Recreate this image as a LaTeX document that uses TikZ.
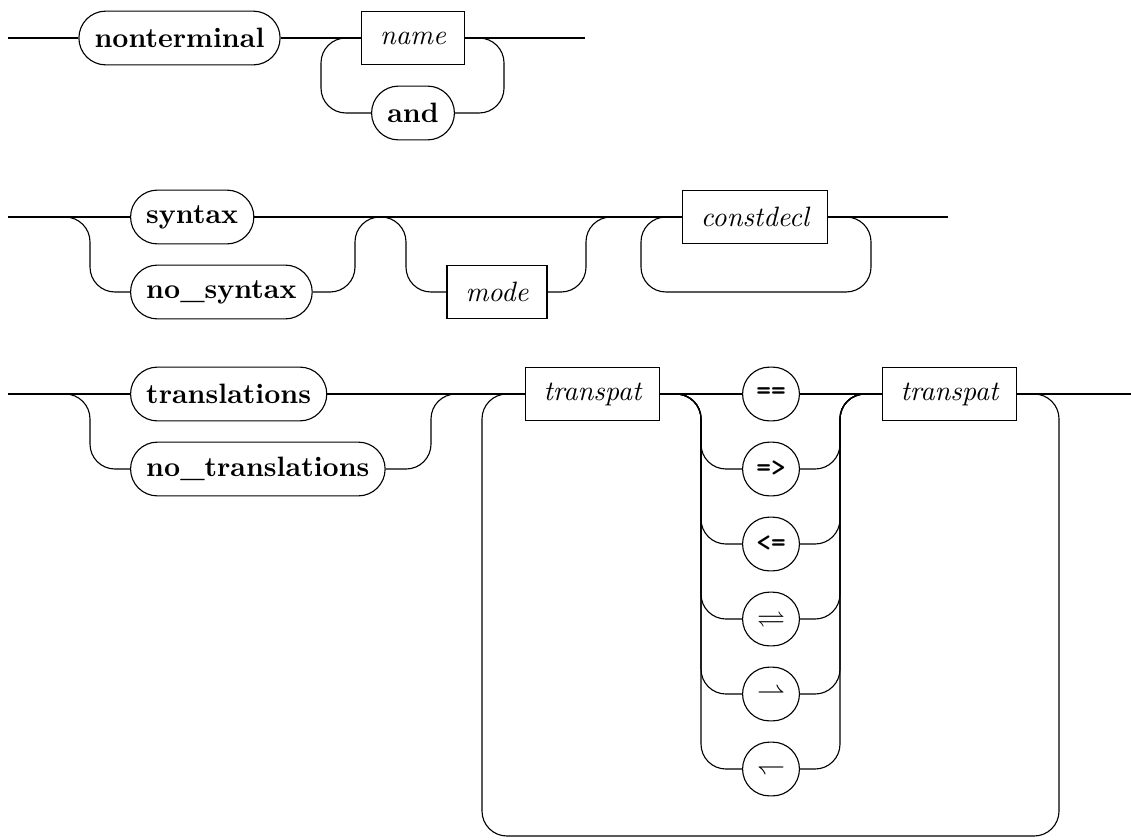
\documentclass[tikz,border=0pt]{standalone}
\usepackage{amsmath}
\usepackage{amssymb}
\usepackage{tikz}

\tikzset{
	term/.style={draw, rounded corners=9.6pt, minimum height=19.2pt, minimum width=20pt, inner xsep=5.6pt, font=\bfseries},
	nonterm/.style={draw, minimum height=19.2pt, inner xsep=6.6pt, font=\itshape},
	opbox/.style={term, inner xsep=2pt, minimum width=20.3pt},
	rail/.style={rounded corners=8.9pt}
}

\begin{document}
\begin{tikzpicture}[x=0.357pt, y=-0.357pt]
	\useasboundingbox (0,0) rectangle (1131,839);
	\begin{scope}[shift={(0,38)}]
		\coordinate (r1in) at (8,0);
		\coordinate (r1out) at (585,0);
		\coordinate (rep1L) at (321,0);
		\coordinate (rep1R) at (504,0);
		\node[term] (nt) at (179.5,0) {nonterminal};
		\node[nonterm] (name) at (413,0) {name};
		\node[term] (and) at (413,75) {and};
		\draw (r1in) -- (nt) -- (name) -- (r1out);
		\draw[rail] (name.west) -- (rep1L) |- (and);
		\draw[rail] (name.east) -- (rep1R) |- (and);
	\end{scope}
	\begin{scope}[shift={(0,217)}]
		\coordinate (r2in) at (8,0);
		\coordinate (r2out) at (948,0);
		\coordinate (alt2L) at (90,0);
		\coordinate (alt2R) at (355,0);
		\coordinate (optL) at (406,0);
		\coordinate (optR) at (586,0);
		\coordinate (rep2L) at (641,0);
		\coordinate (rep2R) at (871,0);
		\coordinate (rep2B) at (755,75);
		\node[term, anchor=west] (syn) at (130,0) {syntax};
		\node[term, anchor=west] (nosyn) at (130,75) {no\_syntax};
		\node[nonterm] (mode) at (497,75) {mode};
		\node[nonterm] (cdecl) at (755,0) {constdecl};
		\draw (r2in) -- (syn) -- (cdecl) -- (r2out);
		\draw[rail] (r2in) -| (alt2L |- nosyn) -- (nosyn);
		\draw[rail] (nosyn) -| (alt2R) -- (optL) |- (mode);
		\draw[rail] (mode) -| (optR) -- (rep2L);
		\draw[rail] (cdecl.west) -- (rep2L) |- (rep2B) -| (rep2R) -- (cdecl.east);
	\end{scope}
	\begin{scope}[shift={(0,394)}]
		\coordinate (r3in) at (8,0);
		\coordinate (r3out) at (1131,0);
		\coordinate (alt3L) at (90,0);
		\coordinate (alt3R) at (431,0);
		\coordinate (rep3L) at (482,0);
		\coordinate (rep3R) at (1059,0);
		\coordinate (rep3B) at (771,442);
		\coordinate (opL) at (701,0);
		\coordinate (opR) at (840,0);
		\node[term, anchor=west] (trans) at (130,0) {translations};
		\node[term, anchor=west] (notrans) at (130,75) {no\_translations};
		\node[nonterm] (tpA) at (592.5,0) {transpat};
		\node[nonterm] (tpB) at (949.5,0) {transpat};
		\foreach \sym [count=\i from 0] in {\texttt{==}, \texttt{=>}, \texttt{<=}, $\rightleftharpoons$, $\rightharpoonup$, $\leftharpoondown$}
			\node[opbox] (op\i) at (771,75*\i) {\sym};
		\draw (r3in) -- (trans) -- (tpA) -- (op0) -- (tpB) -- (r3out);
		\draw[rail] (r3in) -| (alt3L |- notrans) -- (notrans);
		\draw[rail] (notrans) -| (alt3R) -- (tpA);
		\foreach \i in {1,...,5} {
			\draw[rail] (tpA) -| (opL |- op\i) -- (op\i);
			\draw[rail] (op\i) -| (opR) -- (tpB);
		}
		\draw[rail] (tpA.west) -- (rep3L) |- (rep3B) -| (rep3R) -- (tpB.east);
	\end{scope}
\end{tikzpicture}
\end{document}
